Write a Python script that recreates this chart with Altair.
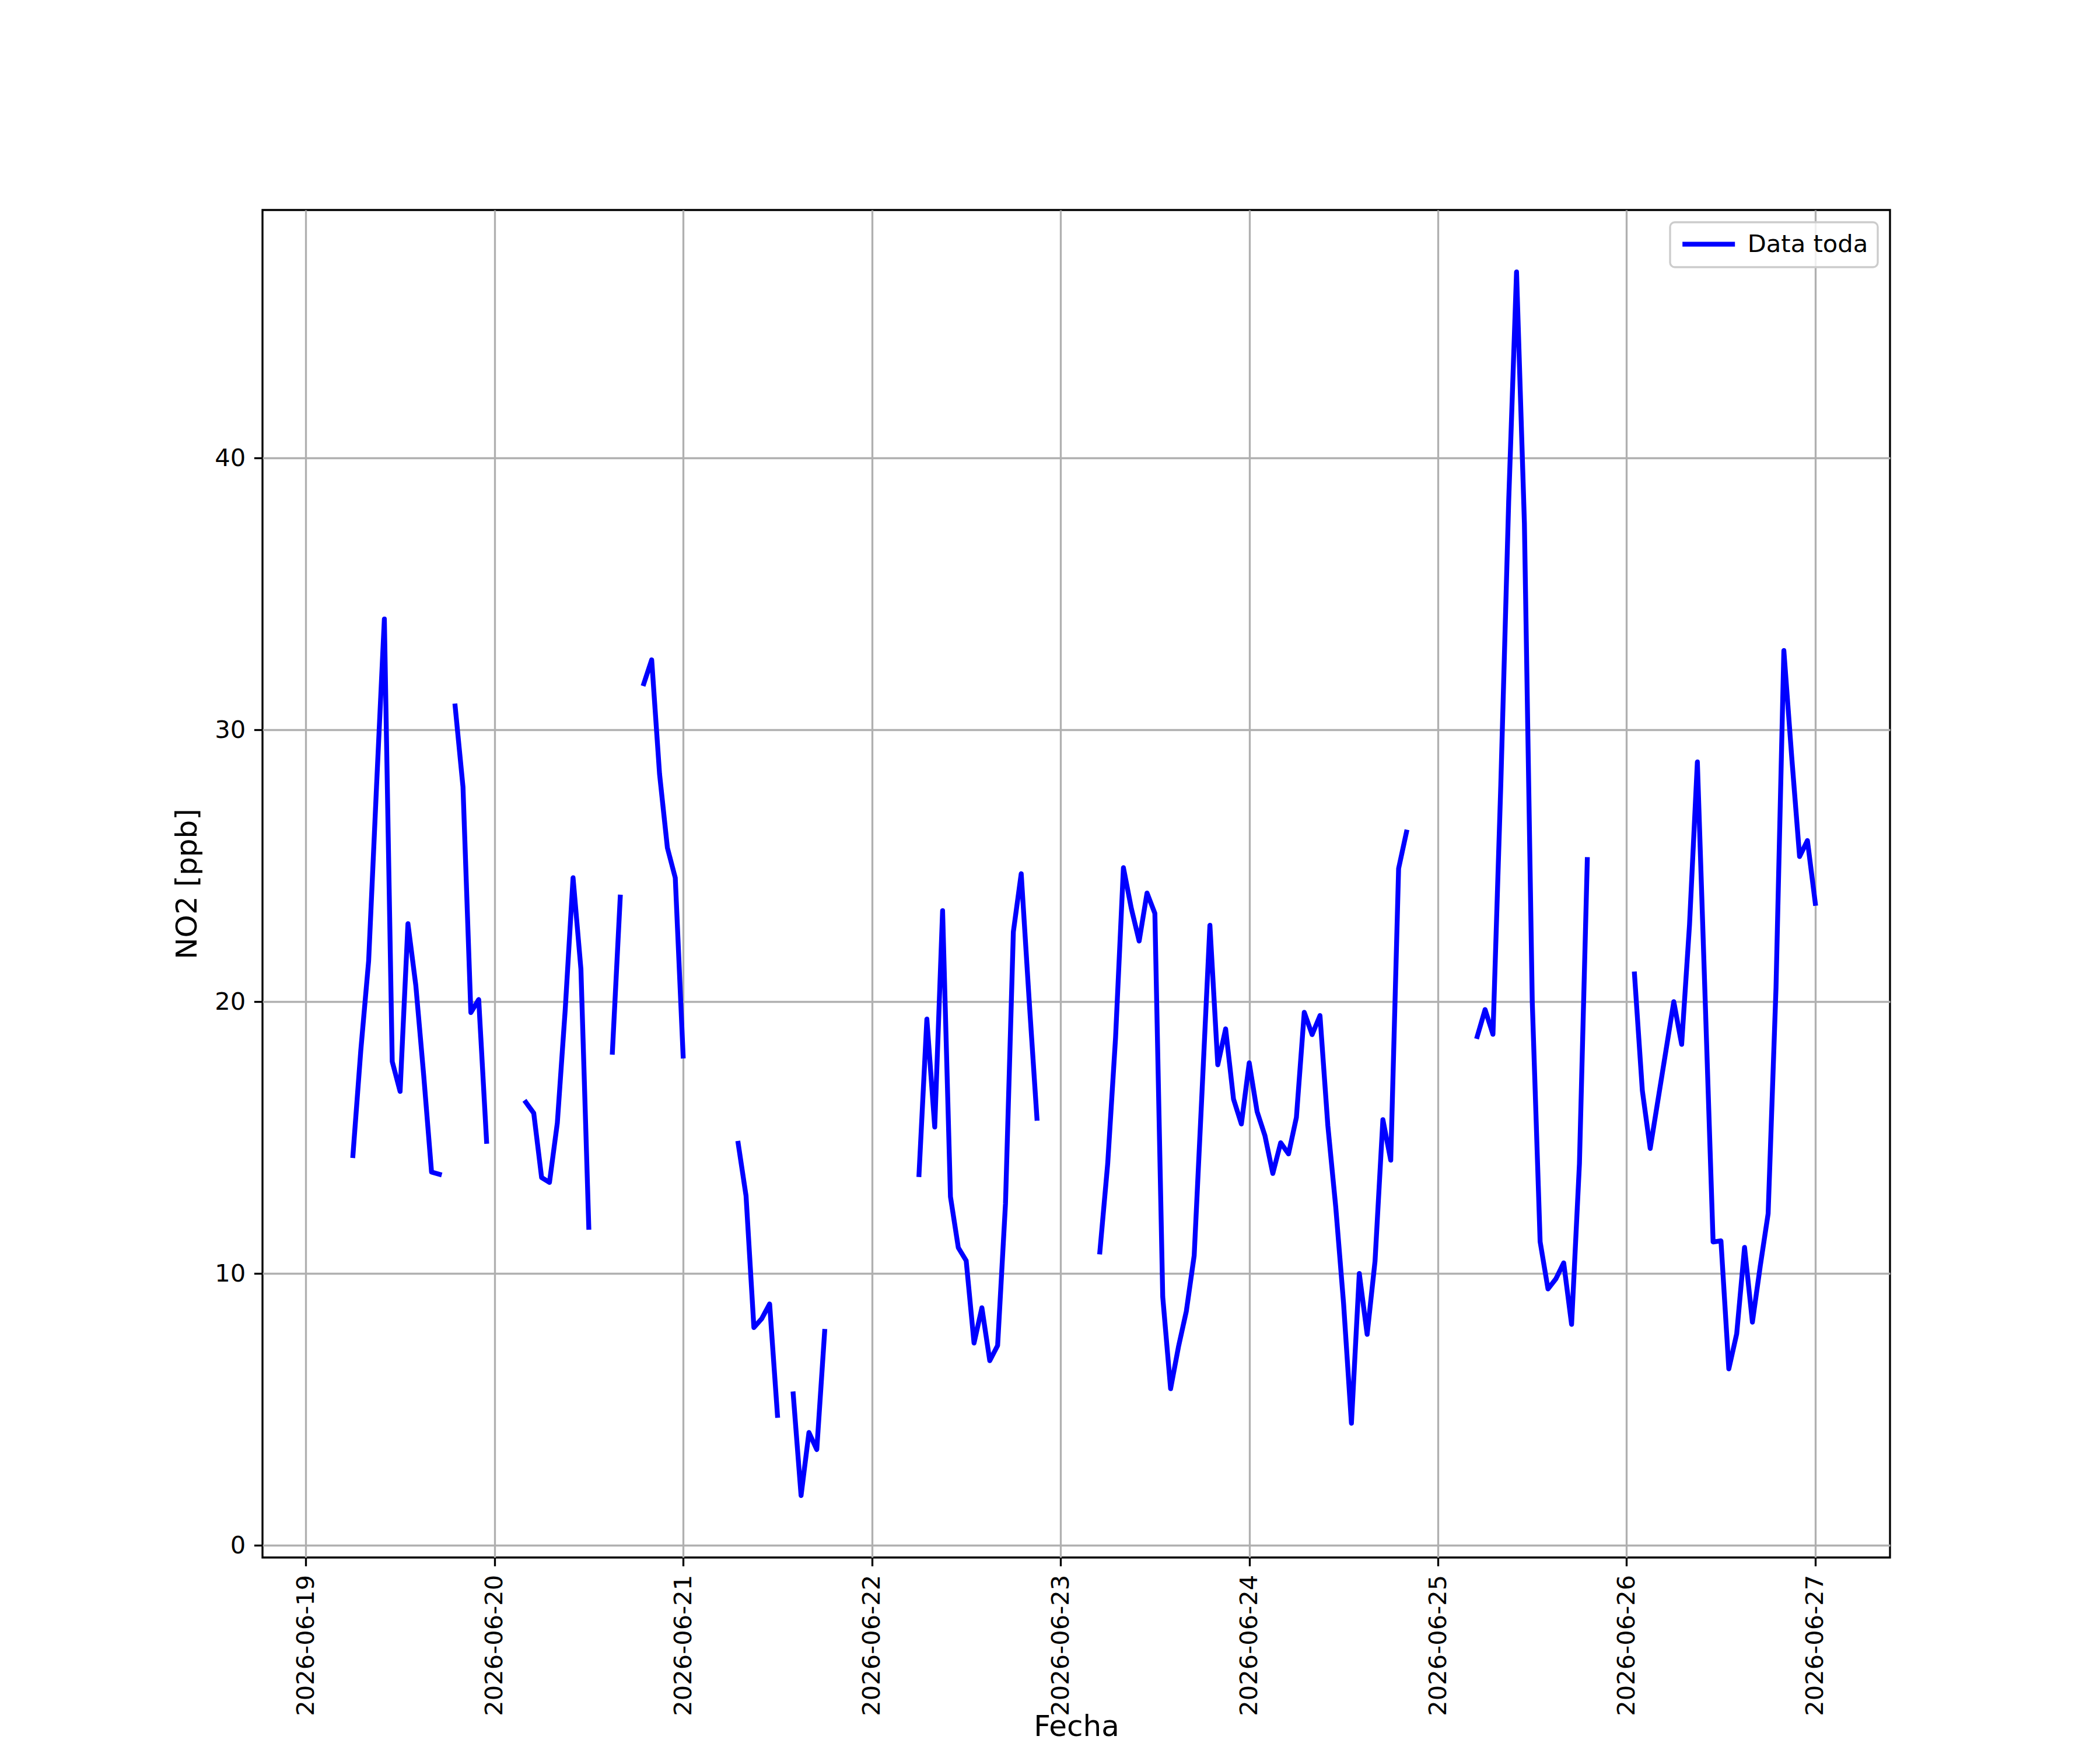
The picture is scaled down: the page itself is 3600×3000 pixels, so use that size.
import altair as alt
import pandas as pd

# Hourly NO2 readings [ppb], one list per continuous stretch (gaps = missing data)
seg_a_start = "2026-06-19 06:00"
seg_a = [14.34, 18.2, 21.5, 27.9, 34.08, 17.8, 16.7, 22.87, 20.6, 17.3, 13.73, 13.65]

seg_b_start = "2026-06-19 19:00"
seg_b = [30.88, 27.9, 19.6, 20.08, 14.86]

seg_c_start = "2026-06-20 04:00"
seg_c = [16.3, 15.9, 13.53, 13.35, 15.54, 19.7, 24.56, 21.2, 11.7]

seg_d_start = "2026-06-20 15:00"
seg_d = [18.14, 23.85]

seg_e_start = "2026-06-20 19:00"
seg_e = [31.7, 32.58, 28.38, 25.66, 24.56, 18.0]

seg_f_start = "2026-06-21 07:00"
seg_f = [14.79, 12.86, 8.01, 8.34, 8.88, 4.78]

seg_g_start = "2026-06-21 14:00"
seg_g = [5.57, 1.83, 4.15, 3.52, 7.87]

seg_h_start = "2026-06-22 06:00"
seg_h = [13.64, 19.36, 15.39, 23.35, 12.83, 10.95, 10.47, 7.44, 8.74, 6.79,
         7.35, 12.57, 22.57, 24.71, 20.1, 15.71]

seg_i_start = "2026-06-23 05:00"
seg_i = [10.79, 14.04, 18.68, 24.93, 23.44, 22.23, 24.0, 23.25, 9.14, 5.76,
         7.3, 8.61, 10.66, 16.7, 22.81, 17.68, 19.0, 16.42, 15.5,
         17.75, 15.96, 15.07, 13.68, 14.81, 14.4, 15.74, 19.61, 18.79, 19.49,
         15.44, 12.46, 8.9, 4.49, 10.0, 7.76, 10.45, 15.66, 14.17, 24.9, 26.24]

seg_j_start = "2026-06-25 05:00"
seg_j = [18.72, 19.71, 18.8, 28.0, 38.4, 46.85, 37.6, 20.0, 11.17, 9.43,
         9.8, 10.39, 8.13, 14.04, 25.23]

seg_k_start = "2026-06-26 01:00"
seg_k = [21.02, 16.73, 14.6, 16.4, 18.2, 20.0, 18.43, 22.83, 28.82, 20.0,
         11.16, 11.2, 6.49, 7.78, 10.96, 8.21, 10.28, 12.2, 20.5, 32.92,
         29.0, 25.34, 25.93, 23.62]

segments = [
    (seg_a_start, seg_a), (seg_b_start, seg_b), (seg_c_start, seg_c),
    (seg_d_start, seg_d), (seg_e_start, seg_e), (seg_f_start, seg_f),
    (seg_g_start, seg_g), (seg_h_start, seg_h), (seg_i_start, seg_i),
    (seg_j_start, seg_j), (seg_k_start, seg_k),
]

series_name = "Data toda"
tick_days = list(range(19, 28))
y_ticks = [0, 10, 20, 30, 40]

rows = []
for i, (start, vals) in enumerate(segments):
    times = pd.date_range(start, periods=len(vals), freq="h")
    for t, v in zip(times, vals):
        rows.append({"fecha": t.strftime("%Y-%m-%dT%H:%M:%S"), "no2": v,
                     "seg": i, "serie": series_name})
df = pd.DataFrame(rows)

FONT = "DejaVu Sans"
LW = 8.33

line = alt.Chart(df).mark_line(
    strokeWidth=LW, strokeJoin="round", strokeCap="square"
).encode(
    x=alt.X(
        "fecha:T",
        title="Fecha",
        scale=alt.Scale(domain=[
            alt.DateTime(year=2026, month=6, date=18, hours=18, minutes=30),
            alt.DateTime(year=2026, month=6, date=27, hours=9, minutes=30),
        ]),
        axis=alt.Axis(
            values=[alt.DateTime(year=2026, month=6, date=d) for d in tick_days],
            format="%Y-%m-%d",
            titleY=305, titleBaseline="alphabetic",
        ),
    ),
    y=alt.Y(
        "no2:Q",
        title="NO2 [ppb]",
        scale=alt.Scale(domain=[-0.45, 49.13], nice=False, zero=False),
        axis=alt.Axis(values=y_ticks),
    ),
    color=alt.Color(
        "serie:N",
        scale=alt.Scale(domain=[series_name], range=["#0000ff"]),
        legend=alt.Legend(
            title=None, orient="none", legendX=2413, legendY=21,
            symbolType="stroke", symbolSize=8100, symbolStrokeWidth=LW,
            labelFontSize=41.67, labelFont=FONT, labelColor="black",
            labelLimit=0, labelOffset=17, padding=16.7, cornerRadius=8,
            clipHeight=42,
            strokeColor="#cccccc", fillColor="rgba(255,255,255,0.8)",
        ),
    ),
    detail="seg:N",
)

chart = line.properties(
    width=2790, height=2310,
    autosize=alt.AutoSizeParams(type="none"),
    padding={"left": 442, "top": 352, "right": 352, "bottom": 322},
    background="white",
).configure(font=FONT).configure_view(
    stroke="black", strokeWidth=3.33
).configure_axis(
    labelFont=FONT, labelFontSize=41.67, labelColor="black", labelLimit=0,
    titleFont=FONT, titleFontSize=50, titleFontWeight="normal", titleColor="black",
    tickSize=14.6, tickWidth=3.33, tickColor="black", labelPadding=14.6,
    grid=True, gridColor="#b0b0b0", gridWidth=3.33, domain=False,
    labelFlush=False, labelOverlap=False,
).configure_axisX(
    labelAngle=270,
).configure_axisY(
    titlePadding=21,
).configure_legend(
    strokeWidth=3.33,
)

chart.save("out.html", embed_options={"renderer": "svg", "actions": False})
